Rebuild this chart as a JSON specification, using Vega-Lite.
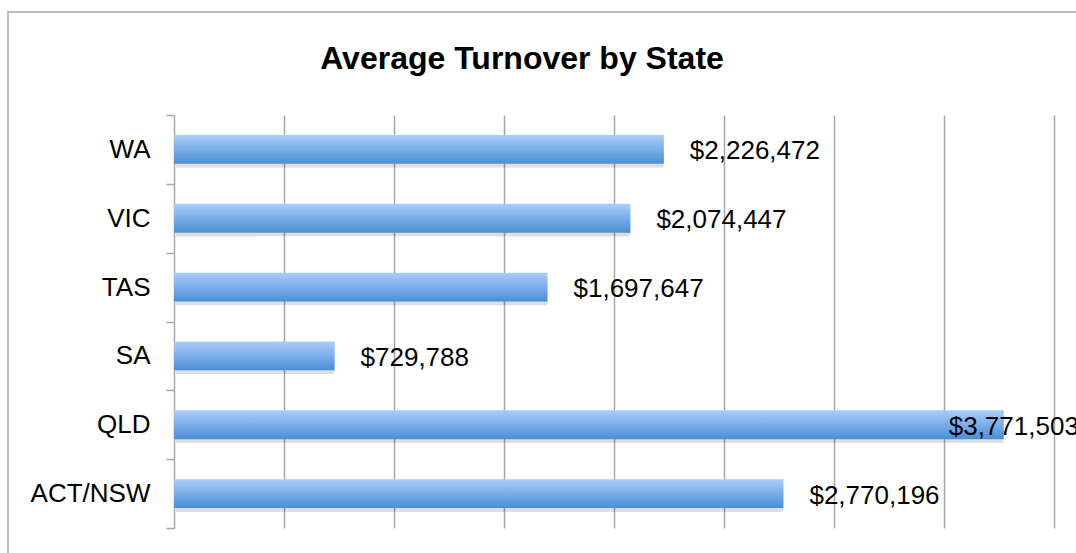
{
  "$schema": "https://vega.github.io/schema/vega-lite/v6.json",
  "autosize": {"type": "none"},
  "padding": {"left": 8, "top": 12, "right": -4, "bottom": -4},
  "width": 1072,
  "height": 545,
  "background": "white",
  "config": {
    "view": {"stroke": "#a6a6a6", "strokeWidth": 1.5},
    "font": "Liberation Sans"
  },
  "title": {
    "text": "Average Turnover by State",
    "font": "Liberation Sans",
    "fontSize": 32,
    "fontWeight": "bold",
    "color": "black",
    "anchor": "middle",
    "frame": "group",
    "dx": -22,
    "offset": -92,
    "baseline": "middle"
  },
  "data": {
    "values": [
      {"state": "WA", "turnover": 2226472},
      {"state": "VIC", "turnover": 2074447},
      {"state": "TAS", "turnover": 1697647},
      {"state": "SA", "turnover": 729788},
      {"state": "QLD", "turnover": 3771503},
      {"state": "ACT/NSW", "turnover": 2770196}
    ]
  },
  "encoding": {
    "y": {
      "field": "state",
      "type": "nominal",
      "sort": null,
      "scale": {"range": [103, 516], "paddingInner": 0, "paddingOuter": 0},
      "axis": {
        "title": null,
        "offset": -166,
        "tickBand": "extent",
        "tickSize": 8,
        "tickColor": "#a6a6a6",
        "tickWidth": 1.5,
        "domainColor": "#a6a6a6",
        "domainWidth": 1.5,
        "labelFont": "Liberation Sans",
        "labelFontSize": 26,
        "labelColor": "black",
        "labelPadding": 16,
        "grid": false
      }
    },
    "x": {
      "field": "turnover",
      "type": "quantitative",
      "scale": {"domain": [0, 4000000], "range": [166, 1046], "nice": false},
      "axis": {
        "orient": "top",
        "title": null,
        "labels": false,
        "ticks": false,
        "domain": false,
        "grid": true,
        "gridColor": "#a6a6a6",
        "gridWidth": 1.5,
        "values": [500000, 1000000, 1500000, 2000000, 2500000, 3000000, 3500000, 4000000]
      }
    }
  },
  "layer": [
    {
      "mark": {"type": "bar", "height": {"band": 0.42}, "color": "#000000", "opacity": 0.13, "yOffset": 4, "xOffset": 2, "cornerRadius": 2}
    },
    {
      "mark": {
        "type": "bar",
        "height": {"band": 0.42},
        "color": {
          "gradient": "linear",
          "x1": 0, "y1": 0, "x2": 0, "y2": 1,
          "stops": [
            {"offset": 0, "color": "#abcdfb"},
            {"offset": 1, "color": "#4b8ed6"}
          ]
        }
      }
    },
    {
      "mark": {
        "type": "text",
        "align": "left",
        "baseline": "middle",
        "fontSize": 26,
        "font": "Liberation Sans",
        "color": "black",
        "dx": {"expr": "datum.turnover > 3500000 ? -55 : 26"},
        "dy": 2
      },
      "encoding": {
        "text": {"field": "turnover", "type": "quantitative", "format": "$,.0f"}
      }
    }
  ]
}
